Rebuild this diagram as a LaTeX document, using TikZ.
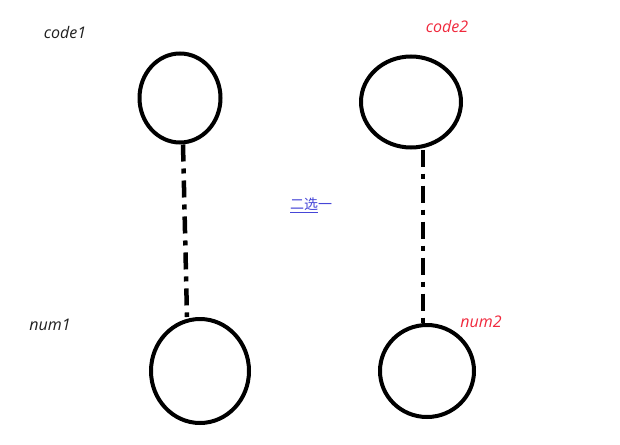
\documentclass[tikz,border=0pt]{standalone}
\usepackage{fontspec}
\setsansfont{Open Sans}
\newfontfamily\cjk{Noto Sans CJK SC}
\usetikzlibrary{positioning,shapes.geometric,calc}
\definecolor{pkred}{RGB}{240,40,60}
\definecolor{pkblue}{RGB}{70,70,215}
\definecolor{pkink}{RGB}{30,30,30}
\tikzset{
  pk/.style={font=\sffamily\itshape\fontsize{16}{18}\selectfont, text=pkink, inner sep=0pt},
  pkball/.style 2 args={
    draw=black, ellipse, line width=4pt, inner sep=0pt,
    minimum width=#1, minimum height=#2
  },
  pklink/.style={line width=4.5pt, draw=black,
    dash pattern=on 17pt off 7pt on 5pt off 7pt},
}
\begin{document}
\begin{tikzpicture}[x=1pt, y=-1pt]
    \useasboundingbox (0,0) rectangle (620,444);

    \node[pkball={81pt}{89pt}] (code1) at (180,98) {};
    \node[pkball={100pt}{91pt}] (code2) at (411,102) {};
    \node[pkball={98pt}{104pt}] (num1) at (200,371) {};
    \node[pkball={94pt}{92pt}] (num2) at (427,371) {};

    \node[pk] (lcode1) at (65,32) {code1};
    \node[pk, text=pkred] (lcode2) at (447,27) {code2};
    \node[pk] (lnum1) at (50,325) {num1};
    \node[pk, text=pkred] (lnum2) at (481,322) {num2};

    \draw[pklink] ([xshift=3pt]code1.south) -- ([xshift=-13pt]num1.north);
    \draw[pklink] ([xshift=12pt]code2.south) -- ([xshift=-4pt]num2.north);

    \node[font=\cjk\fontsize{14}{16}\selectfont, text=pkblue, inner sep=0pt]
      (pick) at (311,205) {\underline{二选}一};
\end{tikzpicture}
\end{document}
